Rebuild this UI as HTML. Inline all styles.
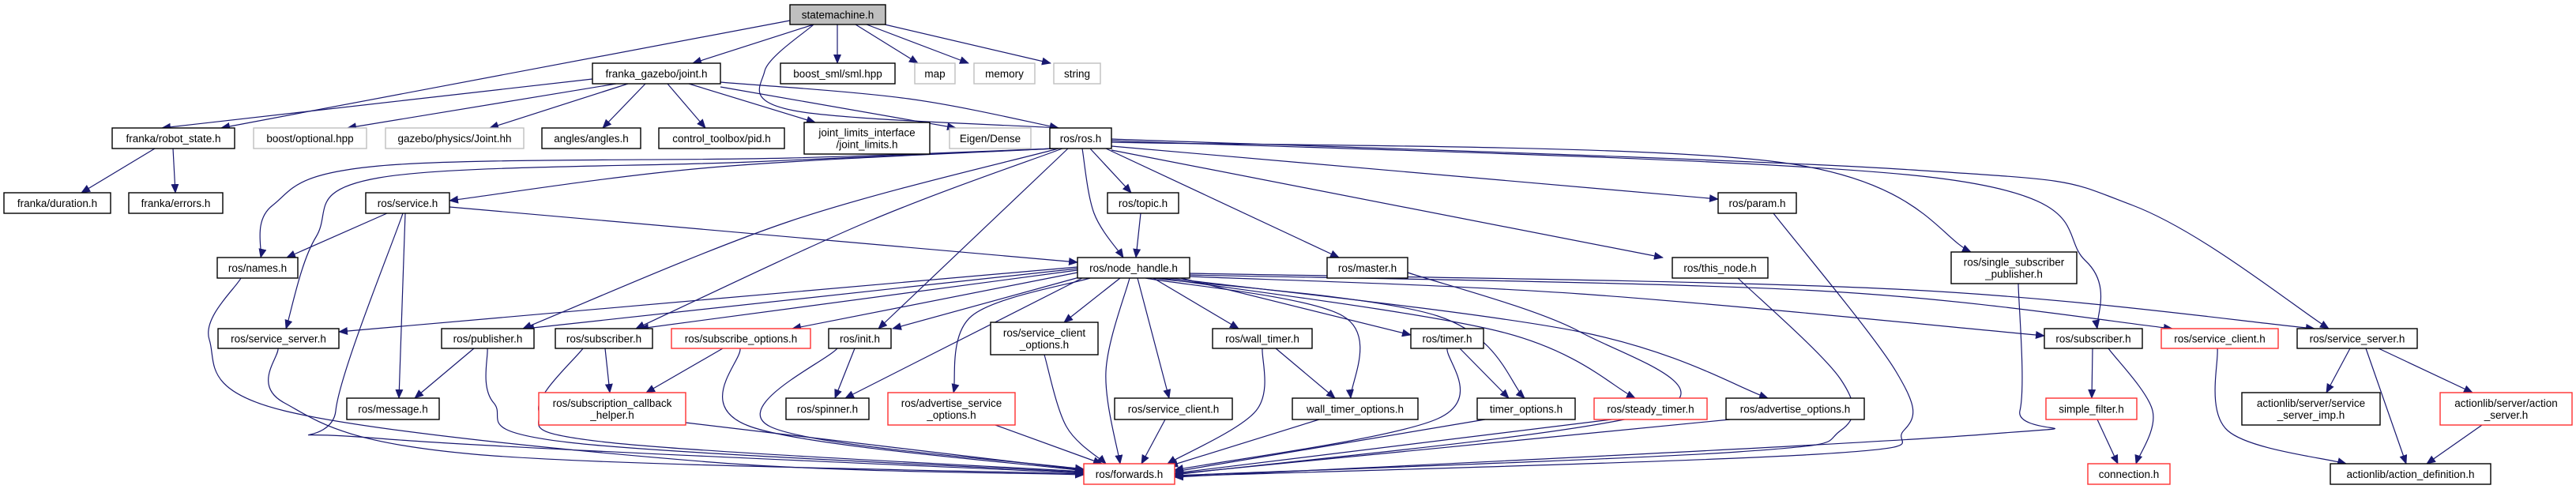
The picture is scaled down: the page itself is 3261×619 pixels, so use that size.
<!DOCTYPE html>
<html><head><meta charset="utf-8"><style>
html,body{margin:0;padding:0;background:#fff;}
svg{display:block;}
text{font-family:"Liberation Sans",sans-serif;font-size:13.5px;fill:#000;}
</style></head><body>
<svg id="g" width="3261" height="619" viewBox="0 0 3261 619" xmlns="http://www.w3.org/2000/svg">
<defs><marker id="a" markerUnits="userSpaceOnUse" markerWidth="12" markerHeight="10" refX="11" refY="5" orient="auto"><path d="M0,0 L12,5 L0,10 Z" fill="#191970"/></marker></defs>
<g id="edges" fill="none" stroke="#191970" stroke-width="1.2"></g>
<g id="nodes"></g>
</svg>
<script>
var N={
sm:[1000,1121,6,31,"statemachine.h","s"],
sml:[988,1133,80,106,"boost_sml/sml.hpp"],
map:[1158,1209,80,106,"map","g"],
mem:[1233,1310,80,106,"memory","g"],
str:[1334,1393,80,106,"string","g"],
joint:[750,912,80,106,"franka_gazebo/joint.h"],
robot:[142,297,162,188,"franka/robot_state.h"],
opt:[321,464,162,188,"boost/optional.hpp","g"],
gaz:[488,663,162,188,"gazebo/physics/Joint.hh","g"],
ang:[686,811,162,188,"angles/angles.h"],
pid:[834,993,162,188,"control_toolbox/pid.h"],
jl:[1018,1177,155,195,"joint_limits_interface|/joint_limits.h"],
eig:[1202,1305,162,188,"Eigen/Dense","g"],
ros:[1329,1407,162,188,"ros/ros.h"],
dur:[5,140,244,270,"franka/duration.h"],
err:[163,282,244,270,"franka/errors.h"],
srv:[463,569,244,270,"ros/service.h"],
topic:[1402,1492,244,270,"ros/topic.h"],
param:[2175,2274,244,270,"ros/param.h"],
names:[275,377,326,352,"ros/names.h"],
nh:[1364,1506,326,352,"ros/node_handle.h"],
master:[1680,1782,326,352,"ros/master.h"],
tn:[2117,2238,326,352,"ros/this_node.h"],
ssp:[2470,2629,319,359,"ros/single_subscriber|_publisher.h"],
ssL:[276,429,416,441,"ros/service_server.h"],
pub:[559,676,416,441,"ros/publisher.h"],
subL:[703,826,416,441,"ros/subscriber.h"],
so:[850,1026,416,441,"ros/subscribe_options.h","r"],
init:[1049,1128,416,441,"ros/init.h"],
sco:[1254,1390,408,449,"ros/service_client|_options.h"],
wt:[1535,1661,416,441,"ros/wall_timer.h"],
tim:[1786,1878,416,441,"ros/timer.h"],
subR:[2588,2712,416,441,"ros/subscriber.h"],
sc:[2736,2884,416,441,"ros/service_client.h","r"],
ssR:[2908,3060,416,441,"ros/service_server.h"],
msg:[439,556,504,531,"ros/message.h"],
sch:[682,868,497,538,"ros/subscription_callback|_helper.h","r"],
spin:[995,1100,504,531,"ros/spinner.h"],
aso:[1124,1285,497,538,"ros/advertise_service|_options.h","r"],
scl:[1411,1560,504,531,"ros/service_client.h"],
wto:[1636,1795,504,531,"wall_timer_options.h"],
to:[1870,1994,504,531,"timer_options.h"],
st:[2018,2161,504,531,"ros/steady_timer.h","r"],
ao:[2185,2360,504,531,"ros/advertise_options.h"],
sf:[2590,2705,504,531,"simple_filter.h","r"],
imp:[2838,3013,497,538,"actionlib/server/service|_server_imp.h"],
as:[3089,3256,497,538,"actionlib/server/action|_server.h","r"],
fwd:[1372,1487,587,613,"ros/forwards.h","r"],
conn:[2643,2747,587,613,"connection.h","r"],
ad:[2950,3153,587,613,"actionlib/action_definition.h"]
};
var E=[
[[1000,26],[280,162]],[[1030,31],[877,80]],[[1030,31],[968,90],[1005,140],[1340,162]],
[[1060,31],[1060,80]],[[1083,31],[1162,80]],[[1097,31],[1226,80]],[[1120,31],[1330,80]],
[[750,100],[205,162]],[[780,106],[440,162]],[[795,106],[620,162]],[[817,106],[763,162]],
[[845,106],[893,162]],[[872,106],[1032,155]],[[912,110],[1210,162]],[[912,104],[1150,125],[1340,162]],
[[196,188],[103,244]],[[219,188],[222,244]],
[[1335,188],[1000,200],[480,210],[345,260],[330,326]],[[1335,188],[950,205],[480,225],[400,300],[362,416]],
[[1335,188],[900,212],[569,254]],[[1340,188],[1000,280],[662,416]],[[1345,188],[1100,280],[805,416]],
[[1352,188],[1112,416]],[[1370,188],[1385,270],[1422,326]],[[1380,188],[1432,244]],[[1444,270],[1438,326]],
[[1400,188],[1695,326]],[[1407,190],[2105,326]],[[1407,185],[2175,252]],
[[1407,180],[2250,205],[2495,319]],[[1407,178],[2450,225],[2640,330],[2655,416]],[[1407,176],[2420,215],[2700,260],[2948,416]],
[[490,270],[363,326]],[[513,270],[505,504]],[[569,262],[1364,332]],
[[600,441],[525,504]],[[766,441],[772,497]],[[915,441],[818,497]],[[1082,441],[1057,504]],
[[1615,441],[1690,504]],[[1848,441],[1910,504]],
[[2649,441],[2648,504]],[[2669,441],[2725,520],[2704,587]],[[2655,531],[2681,587]],
[[2807,441],[2820,545],[2970,587]],[[2975,441],[2945,497]],[[2995,441],[3046,587]],[[3011,441],[3130,497]],[[3142,538],[3072,587]],
[[1506,350],[2000,372],[2588,425]],[[1506,348],[2300,368],[2750,416]],[[1506,346],[2400,366],[2930,416]],
[[1470,352],[1900,420],[2070,504]],[[1480,352],[2000,420],[2238,504]],[[1460,352],[1820,400],[1930,504]],
[[1450,352],[1700,400],[1710,504]],[[1495,352],[1786,424]],[[1460,352],[1568,416]],[[1440,352],[1480,504]],
[[1418,352],[1347,408]],[[1380,352],[1230,400],[1207,497]],[[1370,352],[1070,504]],[[1370,350],[1130,416]],
[[1364,345],[1003,416]],[[1364,342],[810,416]],[[1364,340],[665,416]],[[1364,338],[429,420]],
[[305,352],[265,430],[360,520],[900,585],[1372,601]],[[352,441],[360,510],[600,575],[1372,600]],
[[510,270],[425,520],[480,555],[1372,599]],[[617,441],[625,510],[720,560],[1372,598]],
[[738,441],[682,520],[770,560],[1372,597]],[[868,535],[1372,595]],[[937,441],[950,540],[1372,596]],
[[1060,441],[975,540],[1372,594]],[[1260,538],[1395,587]],[[1322,449],[1350,540],[1400,587]],
[[1430,352],[1400,470],[1418,587]],[[1475,531],[1445,587]],[[1598,441],[1590,520],[1478,587]],
[[1670,531],[1480,590]],[[1832,441],[1820,530],[1487,595]],[[1880,531],[1487,597]],[[2040,531],[1487,599]],
[[2190,531],[1487,600]],[[1782,345],[2000,420],[2100,520],[1487,601]],
[[2200,352],[2330,480],[2330,545],[2200,572],[1487,602]],[[2245,270],[2400,470],[2410,545],[2300,575],[1487,603]],
[[2555,359],[2557,520],[2510,550],[1487,604]]
];
function path(p){
 if(p.length==2)return "M"+p[0]+" L"+p[1];
 var d="M"+p[0];
 for(var i=0;i<p.length-1;i++){
  var p0=p[i-1]||p[i],p1=p[i],p2=p[i+1],p3=p[i+2]||p2;
  var c1=[p1[0]+(p2[0]-p0[0])/6,p1[1]+(p2[1]-p0[1])/6],c2=[p2[0]-(p3[0]-p1[0])/6,p2[1]-(p3[1]-p1[1])/6];
  d+=" C"+c1+" "+c2+" "+p2;
 }
 return d;
}
var ns="http://www.w3.org/2000/svg",ge=document.getElementById("edges"),gn=document.getElementById("nodes");
E.forEach(function(p){var e=document.createElementNS(ns,"path");e.setAttribute("d",path(p));e.setAttribute("marker-end","url(#a)");ge.appendChild(e);});
for(var k in N){var n=N[k];
 var r=document.createElementNS(ns,"rect");
 r.setAttribute("x",n[0]);r.setAttribute("y",n[2]);r.setAttribute("width",n[1]-n[0]);r.setAttribute("height",n[3]-n[2]);
 r.setAttribute("fill",n[5]=="s"?"#bfbfbf":"#fff");
 r.setAttribute("stroke",n[5]=="g"?"#bfbfbf":n[5]=="r"?"#ff3030":"#000");
 r.setAttribute("stroke-width","1.4");gn.appendChild(r);
 var ls=n[4].split("|"),cx=(n[0]+n[1])/2,cy=(n[2]+n[3])/2;
 ls.forEach(function(s,i){var t=document.createElementNS(ns,"text");t.setAttribute("x",cx);
  t.setAttribute("y",cy+5+(i-(ls.length-1)/2)*15);t.setAttribute("text-anchor","middle");t.textContent=s;gn.appendChild(t);});
}
</script>
</body></html>
